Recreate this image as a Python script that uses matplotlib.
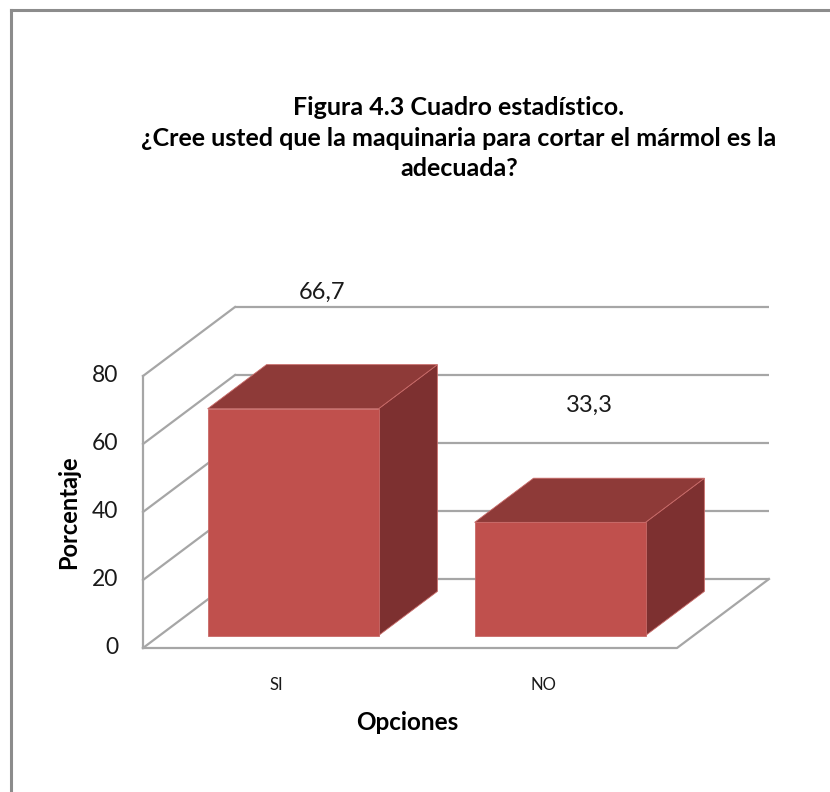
import matplotlib
matplotlib.use('Agg')
import matplotlib.pyplot as plt
from matplotlib.patches import Polygon
from matplotlib.lines import Line2D

# data
categories = ['SI', 'NO']
porcentaje = [66.7, 33.3]
value_labels = ['66,7', '33,3']
yticks = [0, 20, 40, 60, 80]

title = ('Figura 4.3 Cuadro estadístico.\n'
         '¿Cree usted que la maquinaria para cortar el mármol es la\n'
         'adecuada?')

# layout (pixels on a 830x792 canvas)
W, H = 830, 792
x0_px, y0_px = 143, 648       # front-left corner of the floor
cat_px = 267                  # width of one category slot
unit_px = 3.4                 # pixels per percentage point
depth_dx = 92 / cat_px        # oblique depth offset, category units
depth_dy = 69 / unit_px       # oblique depth offset, value units

bar_w = 0.64
d_front, d_back = 0.18, 0.82

c_front = '#C0504D'
c_top = '#8E3A38'
c_side = '#7D3030'
c_grid = '#A6A6A6'
font = 'Lato'


def proj(c, v, d):
    return (c + d * depth_dx, v + d * depth_dy)


fig = plt.figure(figsize=(W / 100, H / 100), dpi=100)
ax = fig.add_axes([0, 0, 1, 1])
ax.set_xlim(-x0_px / cat_px, (W - x0_px) / cat_px)
ax.set_ylim((y0_px - H) / unit_px, y0_px / unit_px)
ax.axis('off')

# chart border
fig.add_artist(Line2D([11 / W, 11 / W], [0, 1 - 10 / H], transform=fig.transFigure,
                      color='#8C8C8C', lw=2.2))
fig.add_artist(Line2D([11 / W, 1], [1 - 10 / H, 1 - 10 / H], transform=fig.transFigure,
                      color='#8C8C8C', lw=2.2))

ncat = len(categories)
ymax = yticks[-1]

# back wall gridlines and side wall lines
for v in yticks:
    xa, ya = proj(0, v, 1)
    xb, yb = proj(ncat, v, 1)
    ax.plot([xa, xb], [ya, yb], color=c_grid, lw=1.6, solid_capstyle='butt')
    xs, ys = zip(proj(0, v, 0), proj(0, v, 1))
    ax.plot(xs, ys, color=c_grid, lw=1.6)
ax.plot([0, 0], [0, ymax], color=c_grid, lw=1.6)

# floor front and right edges
xs, ys = zip(proj(0, 0, 0), proj(ncat, 0, 0), proj(ncat, 0, 1))
ax.plot(xs, ys, color=c_grid, lw=1.6)

# bars
for i, (cat, val, lab) in enumerate(zip(categories, porcentaje, value_labels)):
    c0 = i + 0.5 - bar_w / 2
    c1 = i + 0.5 + bar_w / 2
    front = [proj(c0, 0, d_front), proj(c1, 0, d_front),
             proj(c1, val, d_front), proj(c0, val, d_front)]
    side = [proj(c1, 0, d_front), proj(c1, 0, d_back),
            proj(c1, val, d_back), proj(c1, val, d_front)]
    top = [proj(c0, val, d_front), proj(c1, val, d_front),
           proj(c1, val, d_back), proj(c0, val, d_back)]
    for poly, col in [(side, c_side), (top, c_top), (front, c_front)]:
        ax.add_patch(Polygon(poly, closed=True, facecolor=col,
                             edgecolor='#C86A68', lw=0.6, zorder=3))
    lx, ly = proj(i + 0.5, val, 0.5)
    ax.annotate(lab, (lx, ly), xytext=(0, 68), textcoords='offset points',
                ha='center', va='center', fontsize=17, family=font, color='#1A1A1A')
    ax.text(i + 0.5, -11, cat, ha='center', va='center', fontsize=12,
            family=font, color='#1A1A1A')

# y tick labels
for v in yticks:
    ax.text(-25 / cat_px, v, str(v), ha='right', va='center', fontsize=16.5,
            family=font, color='#1A1A1A')

ax.text(-74 / cat_px, 40, 'Porcentaje', rotation=90, ha='center', va='center',
        fontsize=17, fontweight='bold', family=font)
ax.text(ncat * 0.5 - 0.01, -22, 'Opciones', ha='center', va='center',
        fontsize=17.5, fontweight='bold', family=font)

fig.text(459 / W, 1 - 138 / H, title, ha='center', va='center', fontsize=18,
         fontweight='bold', family=font, linespacing=1.4)

fig.savefig('out.png', dpi=100, facecolor='white')
